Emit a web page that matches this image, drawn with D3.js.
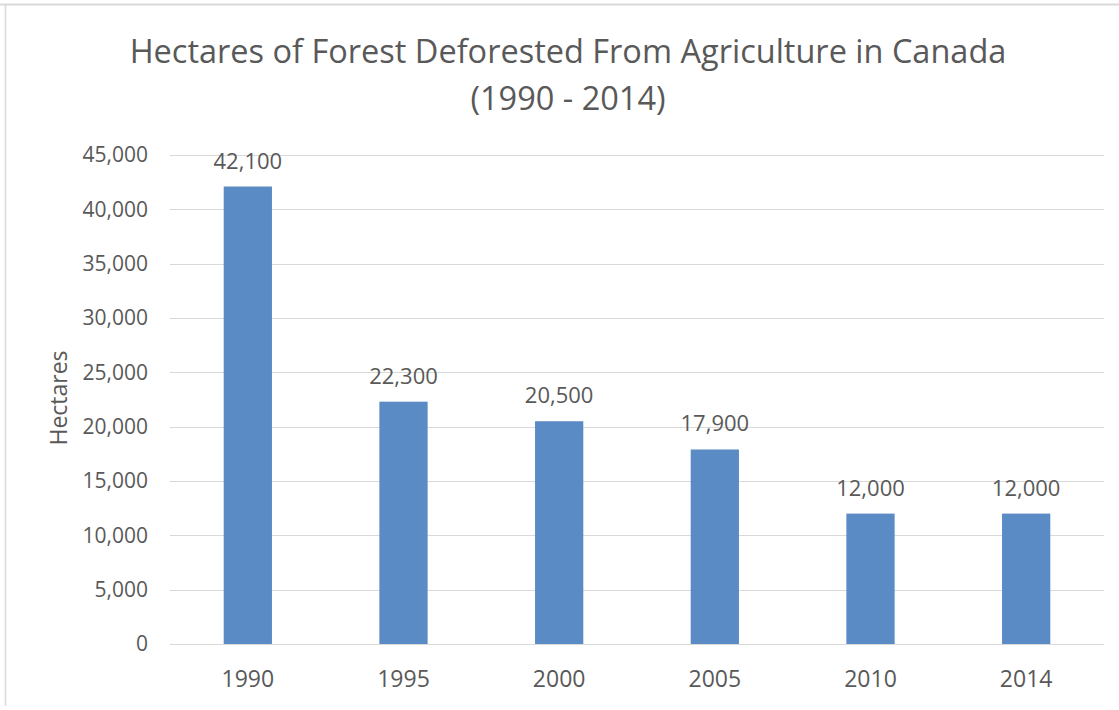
<!DOCTYPE html>
<html>
<head>
<meta charset="utf-8">
<script src="https://cdn.jsdelivr.net/npm/d3@7"></script>
<style>
body{margin:0;background:#fff;}
svg text{font-family:"Open Sans","Noto Sans",sans-serif;fill:#595959;}
</style>
</head>
<body>
<div id="chart"></div>
<script>
var years=["1990","1995","2000","2005","2010","2014"];
var hectares=[42100,22300,20500,17900,12000,12000];
var yTicks=[0,5000,10000,15000,20000,25000,30000,35000,40000,45000];

var width=1119,height=710;
var marge={top:155,bottom:66,left:170,right:15};

var svg=d3.select("#chart").append("svg")
    .attr("width",width)
    .attr("height",height);

// chart border (only top and left show in the picture)
svg.append("line").attr("x1",0).attr("x2",width).attr("y1",4.5).attr("y2",4.5)
    .attr("stroke","#d9d9d9").attr("stroke-width",2);
svg.append("line").attr("x1",5.5).attr("x2",5.5).attr("y1",4).attr("y2",706)
    .attr("stroke","#d9d9d9").attr("stroke-width",1.5);

var x=d3.scaleBand()
    .domain(years)
    .range([marge.left,width-marge.right])
    .paddingInner(0.69)
    .paddingOuter(0.345);

var y=d3.scaleLinear()
    .domain([0,45000])
    .range([height-marge.bottom,marge.top]);

var fmt=d3.format(",");

// gridlines
svg.append("g").selectAll("line")
    .data(yTicks)
    .enter()
    .append("line")
    .attr("x1",marge.left)
    .attr("x2",width-marge.right)
    .attr("y1",function(d){return Math.round(y(d))+0.5;})
    .attr("y2",function(d){return Math.round(y(d))+0.5;})
    .attr("stroke","#d9d9d9")
    .attr("stroke-width",1);

// y axis labels
var yAxis=d3.axisLeft(y).tickValues(yTicks).tickFormat(fmt).tickSize(0).tickPadding(22);
var gy=svg.append("g").attr("transform","translate("+marge.left+",0)").call(yAxis);
gy.select(".domain").remove();
gy.selectAll("text").attr("font-size","21px").attr("fill","#595959");

// x axis labels
var xAxis=d3.axisBottom(x).tickSize(0).tickPadding(27);
var gx=svg.append("g").attr("transform","translate(0,"+(height-marge.bottom)+")").call(xAxis);
gx.select(".domain").remove();
gx.selectAll("text").attr("font-size","23px").attr("fill","#595959");

// bars
svg.append("g").selectAll("rect")
    .data(hectares)
    .enter()
    .append("rect")
    .attr("x",function(d,i){return x(years[i]);})
    .attr("y",function(d){return y(d);})
    .attr("width",x.bandwidth())
    .attr("height",function(d){return y(0)-y(d);})
    .attr("fill","#5b8bc5");

// data labels
svg.append("g").selectAll("text")
    .data(hectares)
    .enter()
    .append("text")
    .attr("x",function(d,i){return x(years[i])+x.bandwidth()/2;})
    .attr("y",function(d){return y(d)-18;})
    .attr("text-anchor","middle")
    .attr("font-size","22px")
    .text(function(d){return fmt(d);});

// title
svg.append("text")
    .attr("x",568).attr("y",63)
    .attr("text-anchor","middle")
    .attr("font-size","32.5px")
    .text("Hectares of Forest Deforested From Agriculture in Canada");
svg.append("text")
    .attr("x",568).attr("y",110)
    .attr("text-anchor","middle")
    .attr("font-size","32.5px")
    .text("(1990 - 2014)");

// y axis title
svg.append("text")
    .attr("transform","translate(67,398) rotate(-90)")
    .attr("text-anchor","middle")
    .attr("font-size","23px")
    .text("Hectares");
</script>
</body>
</html>
